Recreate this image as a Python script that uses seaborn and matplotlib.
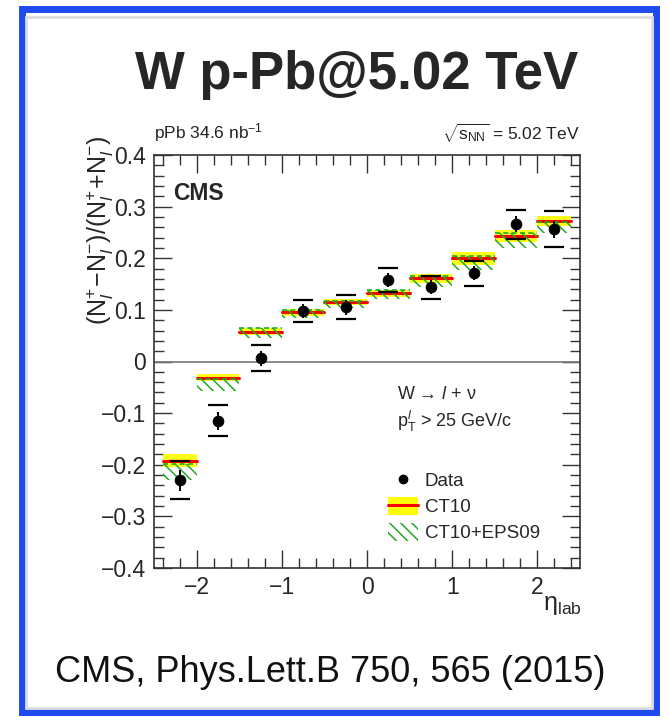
import numpy as np
import matplotlib
matplotlib.use("Agg")
import matplotlib.pyplot as plt
import seaborn as sns
from matplotlib.patches import Rectangle, Patch
from matplotlib.lines import Line2D
from matplotlib.ticker import MultipleLocator

# ---------------- data ----------------
bin_lo = [-2.4, -2.0, -1.5, -1.0, -0.5, 0.0, 0.5, 1.0, 1.5, 2.0]
bin_hi = [-2.0, -1.5, -1.0, -0.5, 0.0, 0.5, 1.0, 1.5, 2.0, 2.4]
eta_data = [-2.2, -1.75, -1.25, -0.75, -0.25, 0.25, 0.75, 1.25, 1.75, 2.2]
asym_data = [-0.230, -0.115, 0.006, 0.098, 0.105, 0.158, 0.144, 0.171, 0.266, 0.256]
stat_err = [0.020, 0.018, 0.015, 0.013, 0.014, 0.013, 0.013, 0.014, 0.015, 0.017]
tot_err = [0.037, 0.030, 0.025, 0.021, 0.023, 0.024, 0.022, 0.024, 0.028, 0.035]
ct10 = [-0.192, -0.031, 0.058, 0.095, 0.115, 0.132, 0.161, 0.200, 0.243, 0.272]
ct10_err = [0.012, 0.007, 0.006, 0.006, 0.006, 0.007, 0.009, 0.013, 0.012, 0.010]
eps09 = [-0.214, -0.045, 0.055, 0.092, 0.111, 0.130, 0.155, 0.191, 0.234, 0.260]
eps09_err = [0.016, 0.012, 0.009, 0.007, 0.007, 0.008, 0.011, 0.014, 0.015, 0.011]

title_text = "W p-Pb@5.02 TeV"
ref_text = "CMS, Phys.Lett.B 750, 565 (2015)"

# ---------------- style ----------------
sns.set_theme(style="ticks")
plt.rcParams['font.family'] = ['Liberation Sans', 'DejaVu Sans']
plt.rcParams['mathtext.fontset'] = 'custom'
plt.rcParams['mathtext.rm'] = 'Liberation Sans'
plt.rcParams['mathtext.it'] = 'Liberation Sans:italic'
plt.rcParams['mathtext.bf'] = 'Liberation Sans:bold'
plt.rcParams['hatch.linewidth'] = 1.1

fig = plt.figure(figsize=(6.7, 7.21), dpi=100)
fig.patch.set_facecolor('white')

# blue hand-drawn style frame
W, H = 670.0, 721.0
frame = Rectangle((22 / W, 9 / H), (656 - 22) / W, (712 - 9) / H,
                  transform=fig.transFigure, fill=False,
                  edgecolor='#1e4af0', linewidth=5.0, zorder=0)
fig.patches.append(frame)
shadow = Rectangle((26 / W, 13 / H), (652 - 26) / W, (704 - 13) / H,
                   transform=fig.transFigure, fill=False,
                   edgecolor='#dddddd', linewidth=2.0, zorder=0)
fig.patches.append(shadow)

ax = fig.add_axes([154 / W, 1 - 568 / H, 426 / W, 413 / H])
ax.set_xlim(-2.5, 2.5)
ax.set_ylim(-0.4, 0.4)

# zero line
ax.axhline(0, color='#777777', lw=1.2, zorder=1)

# theory bands
for lo, hi, c, ce, e, ee in zip(bin_lo, bin_hi, ct10, ct10_err, eps09, eps09_err):
    xs = [lo, hi]
    ax.fill_between(xs, [c - ce] * 2, [c + ce] * 2, facecolor='#ffff00',
                    edgecolor='none', alpha=0.9, zorder=1.5)
    ax.plot(xs, [c, c], color='#ff0000', lw=2.2, zorder=2.5)
    ax.fill_between(xs, [e - ee] * 2, [e + ee] * 2, facecolor='none',
                    edgecolor='#22aa22', hatch='\\\\\\', linewidth=0, zorder=2.6)
    ax.plot(xs, [e + ee, e + ee], color='#22aa22', lw=1.2, ls=(0, (3, 2)), zorder=2.6)

# data
ax.errorbar(eta_data, asym_data, yerr=stat_err, fmt='none', ecolor='black',
            elinewidth=1.4, capsize=0, zorder=3)
up = [a + t for a, t in zip(asym_data, tot_err)]
dn = [a - t for a, t in zip(asym_data, tot_err)]
ax.plot(eta_data, up, ls='none', marker='_', ms=14, mew=1.6, color='black', zorder=3)
ax.plot(eta_data, dn, ls='none', marker='_', ms=14, mew=1.6, color='black', zorder=3)
sns.scatterplot(x=eta_data, y=asym_data, ax=ax, color='black', s=60,
                edgecolor='black', zorder=4, legend=False)

# axes styling ROOT-like
for sp in ax.spines.values():
    sp.set_visible(True)
    sp.set_color('#333333')
    sp.set_linewidth(1.2)
ax.xaxis.set_major_locator(MultipleLocator(1))
ax.xaxis.set_minor_locator(MultipleLocator(0.2))
ax.yaxis.set_major_locator(MultipleLocator(0.1))
ax.yaxis.set_minor_locator(MultipleLocator(0.02))
ax.tick_params(which='both', direction='in', top=True, right=True, color='#333333')
ax.tick_params(which='major', length=13, width=1.0, labelsize=16.5, pad=6)
ax.tick_params(which='minor', length=7, width=1.0)
ax.set_xticks([-2, -1, 0, 1, 2])
ax.set_xticklabels(['\u22122', '\u22121', '0', '1', '2'])
yt = [-0.4, -0.3, -0.2, -0.1, 0, 0.1, 0.2, 0.3, 0.4]
ax.set_yticks(yt)
ax.set_yticklabels([('\u2212' + f'{abs(v):.1f}') if v < 0 else ('0' if v == 0 else f'{v:.1f}') for v in yt])
ax.set_xlabel('')
ax.set_ylabel('')

# texts
ax.text(0.045, 0.935, 'CMS', transform=ax.transAxes, fontsize=16.5, fontweight='bold',
        ha='left', va='top')
fig.text(154 / W, 1 - 133 / H, r'pPb 34.6 nb$^{\mathrm{-1}}$', fontsize=12.5,
         ha='left', va='center', color='#222222')
fig.text(580 / W, 1 - 133 / H, r'$\sqrt{\mathrm{s}_{\mathrm{NN}}}$ = 5.02 TeV', fontsize=12.5,
         ha='right', va='center', color='#222222')
ax.text(0.57, 0.42, 'W \u2192 ' + r'$\mathit{l}$' + ' + \u03bd', transform=ax.transAxes,
        fontsize=13, ha='left', va='center')
ax.text(0.57, 0.355, r'p$_{\mathrm{T}}^{\mathit{l}}$ > 25 GeV/c', transform=ax.transAxes,
        fontsize=13, ha='left', va='center')

fig.text(100 / W, 1 - 230 / H,
         r'$(\mathrm{N}_{\mathit{l}}^{+}\!-\!\mathrm{N}_{\mathit{l}}^{-})/(\mathrm{N}_{\mathit{l}}^{+}\!+\!\mathrm{N}_{\mathit{l}}^{-})$',
         rotation=90, fontsize=18, ha='center', va='center')
fig.text(582 / W, 1 - 605 / H, '\u03b7' + r'$_{\mathrm{lab}}$', fontsize=18,
         ha='right', va='center')

# legend
h_data = Line2D([], [], ls='none', marker='o', ms=6, color='black')
h_ct10 = (Patch(facecolor='#ffff00', edgecolor='none'), Line2D([], [], color='#ff0000', lw=2.2))
h_eps = Patch(facecolor='none', edgecolor='#22aa22', hatch='\\\\\\', linewidth=0)
ax.legend([h_data, h_ct10, h_eps], ['Data', 'CT10', 'CT10+EPS09'],
          loc='upper left', bbox_to_anchor=(0.55, 0.235), frameon=False,
          fontsize=13.5, handlelength=1.6, handleheight=1.1, handletextpad=0.35,
          labelspacing=0.35, borderaxespad=0, borderpad=0)

fig.text(357 / W, 1 - 75 / H, title_text, fontsize=38, fontweight='bold',
         ha='center', va='center')
fig.text(330 / W, 1 - 673 / H, ref_text, fontsize=26, ha='center', va='center',
         color='#111111')

fig.savefig('out.png', dpi=100, facecolor='white')
